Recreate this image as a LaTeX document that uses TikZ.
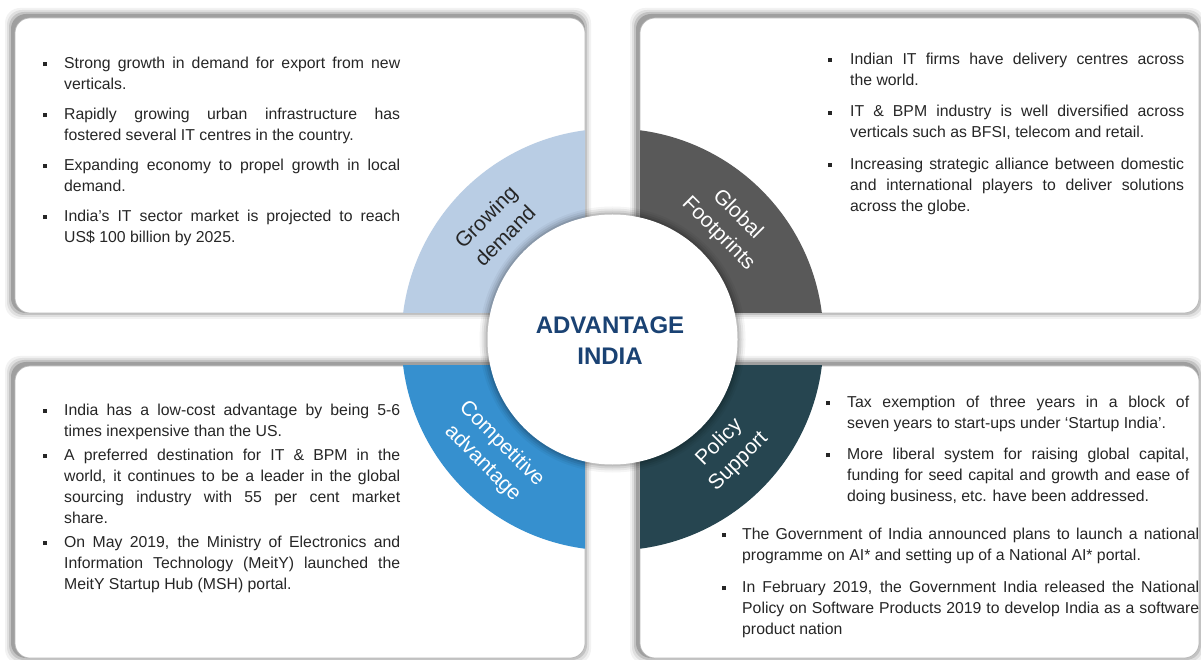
\documentclass[tikz,border=0pt]{standalone}
\usepackage{fontspec}
\setmainfont{Liberation Sans}
\definecolor{cLB}{HTML}{B9CDE4}
\definecolor{cGR}{HTML}{595959}
\definecolor{cBL}{HTML}{3690CF}
\definecolor{cDT}{HTML}{264550}
\definecolor{cTI}{HTML}{1A4273}
\definecolor{cTX}{HTML}{262626}
\newcommand{\bul}[1][21pt]{\noindent\hangindent=#1\relax\hangafter=1\relax\makebox[#1][l]{\raisebox{2pt}{\rule{3.6pt}{3.8pt}}}}
\newcommand{\fst}{\vrule height14pt depth0pt width0pt\relax}
\newcommand{\blk}[3]{\begin{minipage}[t]{#1}\fontsize{15.8}{21}\selectfont\color{cTX}%
  \setlength{\parskip}{#2}\setlength{\parindent}{0pt}%
  \tolerance=10000\relax\pretolerance=10000\relax\hyphenpenalty=10000\relax\exhyphenpenalty=10000\relax
  \rightskip=0pt\relax\leftskip=0pt\relax\parfillskip=0pt plus 1fil\relax
  #3\end{minipage}}
\newcommand{\panel}[4]{%
  \foreach \k/\o in {8/0.05,6/0.08,4/0.12,2/0.18}{%
    \fill[black,opacity=\o,rounded corners=15pt] (#1-\k-2,#2-\k+2) rectangle (#3+\k-2,#4+\k+2);}%
  \fill[white,draw=gray!55,line width=0.7pt,rounded corners=15pt] (#1,#2) rectangle (#3,#4);}
\begin{document}
\begin{tikzpicture}[x=1pt,y=1pt,
  txt/.style={anchor=north west,inner sep=0pt},
  lbl/.style={inner sep=0pt,align=center,font=\fontsize{21}{27}\selectfont}]
\useasboundingbox (0,0) rectangle (1201,659);
\fill[white] (0,0) rectangle (1201,659);
% panels
\panel{15}{346}{585}{641}
\panel{640}{346}{1199}{641}
\panel{15}{1}{585}{293}
\panel{640}{1}{1199}{293}
\coordinate (C) at (612.5,319.5);
% ring quadrants
\begin{scope}\clip (15,346) rectangle (585,641); \fill[cLB] (C) circle[radius=211]; \end{scope}
\begin{scope}\clip (640,346) rectangle (1199,641); \fill[cGR] (C) circle[radius=211]; \end{scope}
\begin{scope}\clip (15,1) rectangle (585,293); \fill[cBL] (C) circle[radius=211]; \end{scope}
\begin{scope}\clip (640,1) rectangle (1199,293); \fill[cDT] (C) circle[radius=211]; \end{scope}
% centre circle with shadow
\foreach \k/\o in {8/0.04,6/0.06,4/0.08,2/0.1}{\fill[black,opacity=\o] (C) circle[radius=125+\k];}
\fill[white] (C) circle[radius=125];
\node[inner sep=0pt,align=center,text=cTI,font=\bfseries\fontsize{24}{31}\selectfont] (title) at (610,318) {ADVANTAGE\\INDIA};
% ring labels
\node[lbl,text=cTX,rotate=45] (lgd) at ([shift={(136:163)}]C) {Growing\\demand};
\node[lbl,text=white,rotate=-45] (lgf) at ([shift={(45:163)}]C) {Global\\Footprints};
\node[lbl,text=white,rotate=-45] (lca) at ([shift={(223.5:166)}]C) {Competitive\\advantage};
\node[lbl,text=white,rotate=45] (lps) at ([shift={(-44:162)}]C) {Policy\\Support};
% texts
\node[txt] (t1) at (43,605) {\blk{357pt}{9pt}{%
\bul\fst Strong growth in demand for export from new\linebreak verticals.\par
\bul Rapidly growing urban infrastructure has\linebreak fostered several IT centres in the country.\par
\bul Expanding economy to propel growth in local\linebreak demand.\par
\bul India's IT sector market is projected to reach\linebreak US\$ 100 billion by 2025.}};
\node[txt] (t2) at (828,609) {\blk{356pt}{10.5pt}{%
\bul[22pt]\fst Indian IT firms have delivery centres across\linebreak the world.\par
\bul[22pt]IT \& BPM industry is well diversified across\linebreak verticals such as BFSI, telecom and retail.\par
\bul[22pt]Increasing strategic alliance between domestic\linebreak and international players to deliver solutions\linebreak across the globe.}};
\node[txt] (t3) at (43,258) {\blk{357pt}{3pt}{%
\bul\fst India has a low-cost advantage by being 5-6\linebreak times inexpensive than the US.\par
\bul A preferred destination for IT \& BPM in the\linebreak world, it continues to be a leader in the global\linebreak sourcing industry with 55 per cent market\linebreak share.\par
\bul On May 2019, the Ministry of Electronics and\linebreak Information Technology (MeitY) launched the\linebreak MeitY Startup Hub (MSH) portal.}};
\node[txt] (t4) at (826,266) {\blk{363pt}{10pt}{%
\bul\fst Tax exemption of three years in a block of\linebreak seven years to start-ups under `Startup India'.\par
\bul More liberal system for raising global capital,\linebreak funding for seed capital and growth and ease of\linebreak doing business, etc. have been addressed.}};
\node[txt] (t5) at (722,134) {\blk{477pt}{11pt}{%
\bul[20pt]\fst The Government of India announced plans to launch a national\linebreak programme on AI* and setting up of a National AI* portal.\par
\bul[20pt]In February 2019, the Government India released the National\linebreak Policy on Software Products 2019 to develop India as a software\linebreak product nation}};
\end{tikzpicture}
\end{document}
